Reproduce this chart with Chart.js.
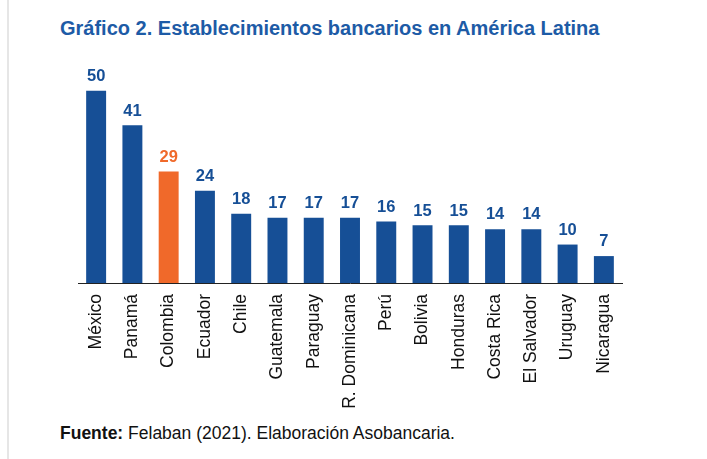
<!DOCTYPE html>
<html>
<head>
<meta charset="utf-8">
<script src="https://cdn.jsdelivr.net/npm/chart.js@4"></script>
<style>
  body { margin: 0; background: #fff; font-family: "Liberation Sans", Arial, sans-serif; }
  #title { position: absolute; left: 60px; top: 17px; font-size: 20px; font-weight: bold; color: #1d5ba6; }
  #foot { position: absolute; left: 60px; top: 423px; font-size: 17.5px; color: #111; }
  #wrap { position: absolute; left: 60px; top: 60px; width: 580px; height: 362px; }
  #edge { position: absolute; left: 7px; top: 0; width: 2px; height: 459px; background: #e6e6e6; }
</style>
</head>
<body>
<div id="edge"></div>
<div id="title">Gráfico 2. Establecimientos bancarios en América Latina</div>
<div id="wrap"><canvas></canvas></div>
<div id="foot"><b>Fuente:</b> Felaban (2021). Elaboración Asobancaria.</div>
<script>
const countries = ["México","Panamá","Colombia","Ecuador","Chile","Guatemala","Paraguay","R. Dominicana","Perú","Bolivia","Honduras","Costa Rica","El Salvador","Uruguay","Nicaragua"];
const banks = [50,41,29,24,18,17,17,17,16,15,15,14,14,10,7];
const blue = "#164f96";
const orange = "#f0692a";
const colors = countries.map(c => c === "Colombia" ? orange : blue);

const valueLabels = {
    id: 'valueLabels',
    afterDatasetsDraw(chart) {
        const ctx = chart.ctx;
        const meta = chart.getDatasetMeta(0);
        ctx.save();
        ctx.font = 'bold 16.5px "Liberation Sans", Arial, sans-serif';
        ctx.textAlign = 'center';
        ctx.textBaseline = 'bottom';
        meta.data.forEach((bar, i) => {
            ctx.fillStyle = colors[i];
            ctx.fillText(banks[i], bar.x, bar.y - 6);
        });
        ctx.restore();
    }
};

new Chart(document.querySelector('canvas').getContext('2d'), {
    type: 'bar',
    data: {
        labels: countries,
        datasets: [{
            data: banks,
            backgroundColor: colors,
            barPercentage: 0.55,
            categoryPercentage: 1
        }]
    },
    options: {
        responsive: true,
        maintainAspectRatio: false,
        animation: false,
        layout: { padding: { left: 18, right: 18, top: 0 } },
        plugins: { legend: { display: false }, tooltip: { enabled: false } },
        scales: {
            y: { display: false, min: 0, max: 58 },
            x: {
                grid: { display: false },
                border: { color: '#222', width: 1 },
                afterFit: s => { s.height = 139; },
                ticks: {
                    maxRotation: 90, minRotation: 90,
                    color: '#111',
                    font: { size: 17.5, family: '"Liberation Sans", Arial, sans-serif' }
                }
            }
        }
    },
    plugins: [valueLabels]
});
</script>
</body>
</html>
